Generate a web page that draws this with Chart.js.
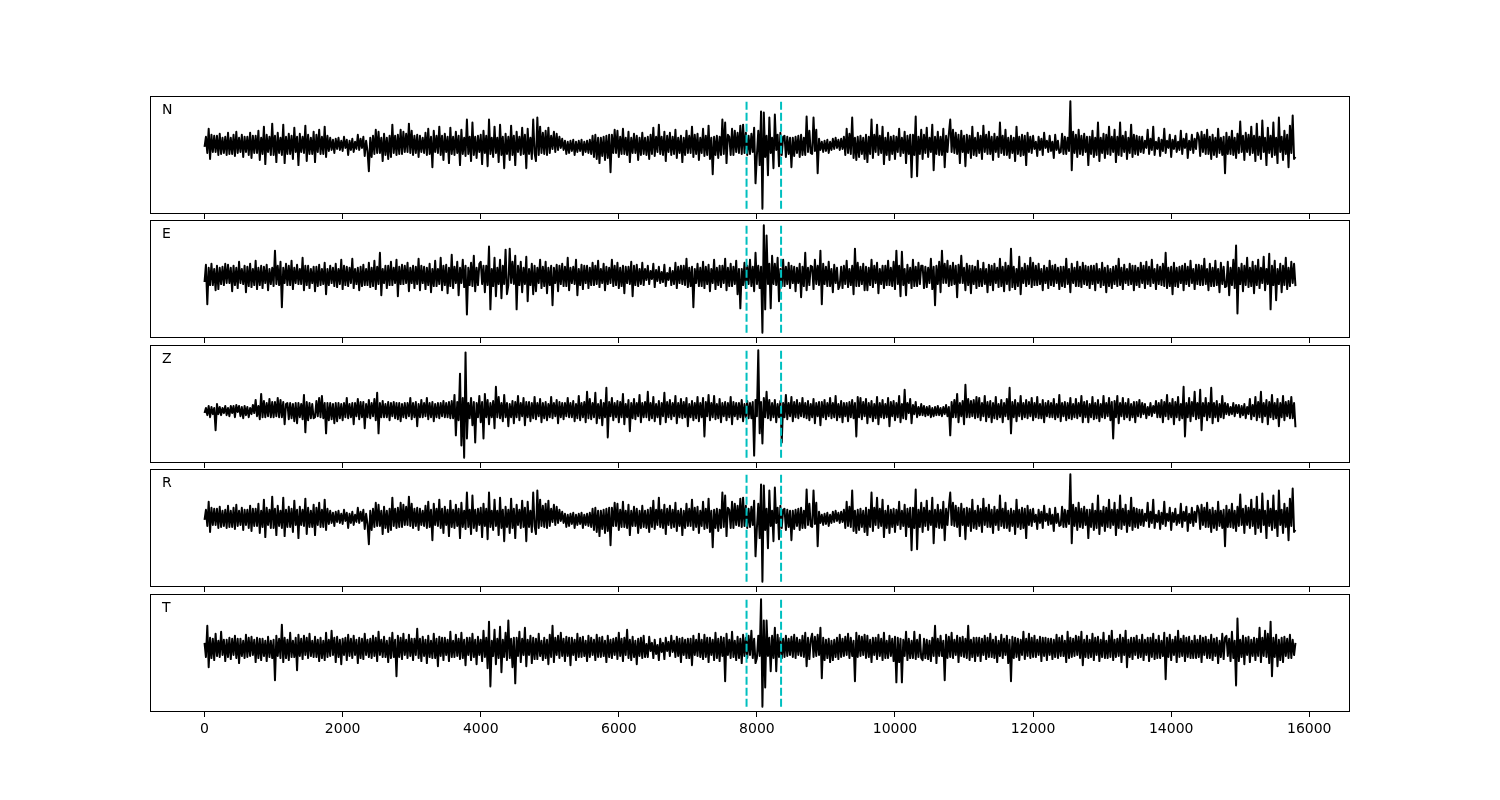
<!DOCTYPE html>
<html lang="en">
  <head>
    <meta charset="UTF-8" />
    <title>Componentes N E Z R T</title>
    <script src="https://cdn.jsdelivr.net/npm/chart.js"></script>
    <style>
      body { margin: 0; background: #fff; }
      .figure { position: relative; width: 1500px; height: 800px; }
      .figure canvas { position: absolute; left: 0; }
    </style>
  </head>
  <body>
    <div class="figure" id="figure"></div>

    <script>
      // samples are 20 units apart, starting at 0
      const STEP = 20;
      const componentNames = ["N", "E", "Z", "R", "T"];
      const pickTimes = [7850, 8350];
      const xTicks = [0, 2000, 4000, 6000, 8000, 10000, 12000, 14000, 16000];

      // amplitudes, one row per 400 units
      const nVals = [
        -2, 8, -8, 16, -14, 10, -7, 9, -7, 9, -10, 11, -9, 7, -8, 8, -10, 12, -9, 7,
        -9, 10, -11, 13, -8, 7, -7, 10, -12, 8, -7, 8, -10, 12, -13, 9, -8, 9, -8, 14,
        -15, 7, -9, 18, -19, 10, -7, 8, -10, 21, -10, 9, -17, 12, -8, 7, -10, 20, -18, 8,
        -9, 11, -9, 9, -14, 17, -7, 8, -20, 11, -7, 8, -8, 19, -16, 10, -9, 7, -9, 13,
        -17, 10, -7, 15, -9, 8, -9, 18, -12, 9, -6, 7, -5, 5, -8, 6, -4, 7, -5, 4,
        -6, 8, -3, 5, -10, 4, -5, 6, -7, 3, -4, 10, -5, 6, -3, 8, -11, 4, -6, -26,
        7, -12, 9, -9, 15, -8, 13, -8, 7, -16, 11, -10, 7, -14, 9, -12, 20, -8, 9, -10,
        10, -9, 15, -9, 13, -7, 11, -7, 21, -8, 14, -10, 9, -8, 10, -12, 9, -7, 7, -8,
        12, -10, 16, -9, 8, -22, 14, -7, 9, -8, 18, -10, 9, -15, 11, -7, 8, -18, 17, -9,
        8, -10, 13, -8, 9, -20, 15, -9, 7, -11, 25, -9, 8, -16, 22, -10, 8, -13, 9, -7,
        10, -19, 14, -8, 9, -21, 25, -9, 7, -12, 18, -8, 7, -17, 20, -10, 8, -23, 11, -9,
        8, -15, 19, -10, 9, -20, 13, -7, 8, -10, 17, -9, 10, -23, 16, -9, 7, -14, 25, -8,
        -16, 27, -10, 18, -8, 12, -9, 14, -10, 17, -8, 9, -4, 13, -7, 11, -5, 8, -3, 6,
        -5, 4, -9, 3, -8, 4, -6, 5, -10, 3, -7, 4, -6, 5, -10, 3, -7, 4, -8, 5,
        -9, 9, -12, 10, -14, 7, -18, 7, -11, 8, -15, 9, -13, 10, -27, 10, -8, 15, -8, 14,
        -12, 8, -9, 16, -9, 7, -10, 13, -17, 7, -8, 11, -8, 9, -15, 7, -10, 12, -9, 7,
        -10, 8, -14, 10, -9, 17, -11, 8, -7, 20, -9, 8, -10, 13, -16, 9, -7, 12, -10, 8,
        -9, 15, -13, 7, -8, 9, -17, 7, -10, 14, -8, 9, -8, 18, -12, 10, -9, 11, -15, 7,
        -8, 16, -11, 9, -10, 19, -14, 7, -29, 8, -10, 9, -13, 8, -10, 25, -9, 22, -18, 10,
        8, -10, 16, -10, 14, -7, 12, -8, 19, -9, 20, -8, 12, -10, 9, -9, 11, -7, 17, -38,
        -10, 14, -20, 33, -63, 32, -12, 9, -30, 27, -8, 7, -23, 30, -5, 10, -21, 12, -10, 8,
        9, -12, 8, -9, 7, -22, 7, -11, 8, -8, 9, -12, 10, -10, 7, -10, 28, -7, 14, -8,
        -9, 27, -6, 15, -28, 6, -5, 3, -7, 4, -6, 5, -8, 3, -5, 6, -4, 7, -3, 5,
        -5, 6, -4, 8, -10, 16, -8, 11, -9, 27, -13, 7, -15, 8, -12, 9, -9, 7, -14, 10,
        -17, 8, -9, 25, -13, 10, -7, 20, -10, 9, -8, 18, -19, 7, -10, 12, -15, 8, -9, 9,
        -14, 8, -7, 16, -11, 7, -8, 13, -18, 9, -9, 10, -32, 10, -10, 28, -31, 8, -9, 15,
        -14, 10, -8, 17, -12, 7, -7, 20, -25, 8, -9, 13, -10, 8, -10, 16, -22, 9, -7, 11,
        25, -7, 15, -8, 12, -9, 10, -18, 14, -7, 9, -21, 10, -8, 9, -13, 18, -10, 7, -11,
        12, -8, 9, -14, 19, -7, 10, -9, 13, -9, 8, -15, 11, -7, 8, -12, 22, -8, 9, -10,
        15, -10, 7, -13, 9, -8, 7, -16, 18, -9, 8, -11, 10, -10, 9, -20, 12, -7, 8, -8,
        9, -4, 3, -11, 8, -5, 6, -10, 12, -3, 4, -7, 9, -6, 3, -13, 10, -5, 4, -8,
        -7, 11, -9, 8, -9, 7, -6, 43, -25, 13, -8, 10, -12, 15, -9, 9, -10, 11, -7, 8,
        -20, 8, -9, 14, -12, 7, -10, 22, -16, 7, -8, 11, -13, 10, -9, 18, -10, 8, -7, 15,
        -17, 8, -10, 22, -11, 9, -7, 13, -14, 7, -8, 20, -12, 10, -9, 9, -10, 8, -7, 8,
        -8, 4, -3, 15, -9, 6, -5, 18, -10, 3, -4, 7, -11, 5, -6, 16, -8, 4, -3, 10,
        -12, 5, -4, 9, -7, 3, -5, 14, -9, 6, -3, 11, -13, 4, -5, 10, -8, 6, -4, 12,
        8, -11, 13, -7, 10, -9, 15, -9, 8, -14, 10, -10, 7, -12, 16, -8, 7, -10, 8, -28,
        12, -9, 8, -9, 14, -10, 7, -13, 11, -8, 23, -7, 9, -15, 12, -7, 10, -10, 18, -8,
        9, -16, 21, -10, 8, -14, 24, -7, 7, -20, 17, -8, 9, -12, 22, -10, 7, -18, 27, -7,
        8, -15, 14, -9, 10, -22, 19, -8, 29, -14, -12,
      ];

      const eVals = [
        -6, 11, -28, 8, -9, 12, -9, 7, -14, 10, -13, 8, -8, 9, -9, 12, -7, 11, -7, 8,
        -15, 10, -9, 8, -12, 14, -7, 7, -8, 10, -16, 9, -10, 12, -11, 7, -9, 15, -13, 8,
        -9, 10, -12, 9, -7, 11, -14, 7, -8, 8, -10, 25, -8, 10, -9, 14, -31, 8, -7, 12,
        -9, 10, -9, 15, -13, 8, -7, 11, -8, 7, -8, 18, -14, 10, -9, 10, -12, 7, -7, 9,
        -15, 9, -10, 11, -9, 7, -8, 13, -18, 7, -9, 10, -7, 8, -10, 12, -11, 7, -8, 16,
        -13, 10, -9, 9, -10, 8, -7, 17, -12, 7, -8, 8, -14, 9, -10, 11, -9, 7, -9, 13,
        -11, 8, -10, 15, -13, 9, -8, 23, -19, 7, -7, 10, -12, 10, -9, 14, -9, 8, -7, 16,
        -20, 9, -8, 11, -8, 10, -7, 13, -15, 8, -7, 10, -12, 9, -8, 17, -14, 10, -7, 9,
        -13, 8, -9, 12, -16, 7, -10, 15, -10, 7, -8, 18, -14, 10, -9, 11, -17, 8, -10, 21,
        -12, 9, -7, 14, -19, 8, -7, 16, -11, 10, -38, 8, -9, 13, -10, 20, -15, 8, -9, 12,
        14, -8, 10, -16, 10, -9, 29, -33, 7, -10, 18, -20, 8, -8, 16, -22, 10, -8, 26, -18,
        -9, 27, -7, 14, -8, 20, -33, 10, -9, 14, -16, 8, -8, 19, -25, 7, -9, 12, -18, 10,
        -15, 8, -7, 16, -12, 9, -10, 14, -17, 8, -9, 10, -29, 8, -7, 11, -15, 10, -8, 12,
        -10, 9, -10, 18, -14, 8, -7, 9, -8, 16, -19, 7, -9, 11, -13, 10, -7, 10, -12, 8,
        -9, 13, -9, 10, -8, 15, -11, 7, -7, 12, -14, 9, -8, 8, -7, 16, -10, 10, -9, 13,
        -12, 8, -10, 10, -17, 9, -7, 9, -8, 14, -20, 10, -9, 11, -10, 7, -8, 13, -9, 7,
        -4, 10, -8, 5, -3, 12, -11, 6, -5, 9, -7, 4, -6, 11, -10, 3, -4, 8, -9, 5,
        -8, 13, -12, 9, -7, 10, -8, 10, -9, 17, -11, 8, -10, 9, -31, 7, -7, 12, -10, 8,
        -10, 14, -12, 9, -8, 11, -15, 7, -7, 16, -13, 8, -9, 10, -11, 10, -7, 17, -14, 8,
        -10, 12, -10, 9, -8, 15, -18, 7, -32, 7, -9, 13, -12, 10, -8, 16, -10, 9, -15, 23,
        -8, 10, -12, 9, -56, 50, -33, 40, -8, 12, -32, 20, -8, 12, -9, 18, -25, 7, -10, 16,
        -10, 9, -8, 13, -12, 10, -7, 9, -15, 8, -7, 12, -21, 9, -10, 23, -14, 8, -9, 10,
        9, -13, 16, -8, 10, -9, 25, -28, 12, -8, 9, -10, 14, -10, 7, -16, 11, -7, 8, -13,
        -9, 9, -12, 10, -8, 15, -11, 7, -9, 10, -18, 27, -10, 13, -10, 9, -8, 12, -14, 9,
        -14, 8, -9, 16, -11, 10, -7, 13, -17, 7, -8, 10, -12, 10, -9, 15, -9, 8, -10, 14,
        -13, 25, -8, 10, -20, 24, -9, 7, -19, 11, -7, 8, -12, 16, -10, 9, -10, 13, -8, 10,
        10, -12, 9, -11, 8, -7, 17, -13, 9, -29, 10, -8, 14, -16, 25, -7, 12, -7, 15, -10,
        10, -9, 13, -8, 10, -21, 11, -7, 20, -7, 8, -14, 12, -9, 10, -17, 10, -8, 9, -12,
        15, -10, 7, -10, 13, -8, 7, -16, 11, -9, 10, -14, 12, -7, 8, -11, 17, -10, 9, -15,
        13, -8, 10, -14, 27, -11, 9, -13, 7, -10, 19, -18, 8, -7, 12, -10, 10, -8, 18, -11,
        13, -9, 10, -9, 12, -8, 7, -14, 10, -7, 8, -12, 15, -9, 10, -10, 11, -7, 8, -13,
        9, -10, 9, -11, 17, -8, 7, -16, 12, -7, 8, -10, 14, -10, 9, -11, 13, -8, 10, -9,
        9, -12, 10, -8, 10, -14, 12, -7, 7, -11, 13, -9, 8, -16, 10, -10, 7, -12, 9, -8,
        10, -10, 17, -9, 8, -13, 11, -7, 7, -9, 12, -8, 10, -14, 10, -9, 8, -11, 13, -7,
        10, -12, 14, -8, 9, -10, 16, -7, 7, -13, 11, -8, 9, -9, 12, -10, 23, -12, 8, -10,
        9, -18, 13, -10, 8, -11, 9, -7, 10, -14, 12, -8, 9, -10, 15, -7, 7, -13, 11, -8,
        11, -9, 10, -9, 17, -8, 7, -14, 12, -10, 8, -10, 15, -9, 7, -16, 13, -8, 9, -11,
        -10, 14, -19, 8, -9, 16, -12, 30, -37, 8, -8, 12, -15, 10, -9, 18, -11, 8, -10, 14,
        -17, 10, -9, 16, -12, 8, -7, 19, -14, 7, -8, 22, -33, 10, -9, 15, -24, 7, -8, 12,
        -16, 10, -9, 18, -13, 8, -10, 14, -7, 12, -10,
      ];

      const zVals = [
        -3, 2, -5, 4, -7, 3, -4, 2, -20, 6, -4, 3, -5, 2, -3, 4, -5, 2, -6, 4,
        -3, 4, -7, 5, -2, 4, -6, 3, -8, 4, -5, 3, -7, 2, -4, 5, -3, 10, -6, 4,
        -9, 16, -7, 9, -7, 7, -6, 11, -7, 8, -7, 8, -6, 12, -7, 10, -7, 8, -14, 6,
        7, -9, 7, -8, 6, -11, 7, -13, 7, -7, 6, -9, 15, -22, 8, -10, 7, -8, 6, -8,
        -7, 9, -6, 12, -7, 14, -8, 7, -23, 7, -10, 7, -9, 6, -13, 7, -11, 7, -8, 6,
        -10, 7, -7, 12, -8, 6, -7, 7, -14, 7, -6, 11, -9, 8, -7, 8, -18, 6, -7, 10,
        -8, 7, -6, 11, -10, 17, -23, 7, -7, 9, -7, 6, -7, 8, -10, 7, -6, 8, -8, 7,
        -9, 7, -11, 6, -7, 7, -8, 7, -6, 12, -9, 7, -7, 8, -16, 6, -7, 10, -7, 7,
        -6, 12, -9, 7, -7, 8, -11, 6, -7, 7, -8, 7, -6, 9, -7, 7, -7, 8, -8, 9,
        -8, 15, -25, 8, -10, 36, -35, 12, -47, 57, -28, 7, -8, 12, -15, 8, -32, 7, -7, 14,
        -12, 8, -28, 16, -7, 10, -14, 7, -7, 9, -18, 23, -7, 13, -8, 7, -11, 15, -7, 7,
        -16, 6, -7, 9, -13, 8, -7, 14, -10, 7, -6, 12, -15, 8, -7, 8, -11, 7, -8, 13,
        -9, 7, -6, 11, -12, 7, -8, 8, -10, 6, -7, 13, -8, 7, -6, 10, -13, 8, -7, 7,
        -9, 7, -6, 12, -7, 7, -7, 9, -11, 6, -8, 14, -10, 7, -7, 8, -12, 18, -8, 11,
        -9, 7, -7, 17, -13, 6, -8, 10, -15, 7, -7, 22, -27, 8, -6, 12, -10, 7, -7, 9,
        -12, 8, -7, 16, -14, 6, -7, 10, -21, 7, -8, 11, -9, 7, -6, 15, -12, 7, -7, 8,
        -7, 18, -10, 7, -8, 13, -11, 6, -7, 9, -14, 7, -6, 17, -12, 8, -7, 10, -9, 7,
        -6, 14, -13, 7, -7, 11, -8, 8, -7, 12, -16, 6, -7, 9, -10, 7, -8, 13, -11, 7,
        -7, 12, -26, 8, -6, 15, -10, 7, -7, 14, -9, 6, -8, 11, -12, 7, -6, 8, -10, 7,
        -7, 13, -14, 8, -6, 7, -9, 7, -7, 10, -11, 6, -7, 9, -8, 7, -8, 8, -45, 10,
        -6, 59, -23, 8, -33, 12, -7, 18, -8, 10, -10, 7, -7, 10, -12, 6, -7, 9, -32, 7,
        -7, 15, -9, 7, -6, 13, -11, 8, -7, 10, -8, 7, -6, 12, -7, 7, -8, 9, -10, 6,
        -7, 11, -13, 7, -6, 8, -15, 8, -7, 10, -9, 7, -6, 12, -8, 7, -7, 14, -10, 6,
        -7, 9, -12, 7, -6, 7, -11, 8, -7, 10, -8, 7, -26, 13, -7, 12, -9, 8, -6, 11,
        -13, 7, -7, 9, -11, 6, -8, 13, -14, 7, -7, 10, -8, 6, -7, 12, -16, 8, -6, 9,
        -10, 7, -7, 14, -12, 6, -8, 20, -9, 7, -3, 11, -13, 5, -4, 8, -7, 3, -5, 6,
        -5, 4, -6, 3, -5, 4, -7, 2, -6, 3, -5, 4, -5, 2, -6, 3, -4, 5, -6, 3,
        -25, 8, -7, 10, -7, 16, -12, 7, -6, 9, -14, 25, -7, 11, -7, 9, -6, 10, -8, 13,
        -7, 12, -10, 7, -6, 14, -11, 8, -7, 9, -12, 7, -8, 13, -9, 6, -7, 10, -12, 7,
        -6, 11, -9, 22, -23, 8, -7, 10, -11, 7, -6, 14, -9, 7, -7, 10, -8, 8, -6, 12,
        -10, 7, -7, 13, -8, 6, -8, 10, -12, 7, -6, 9, -7, 7, -7, 11, -9, 6, -7, 15,
        -11, 7, -6, 8, -10, 7, -8, 12, -9, 6, -7, 11, -8, 7, -6, 14, -12, 8, -7, 9,
        -12, 6, -7, 13, -9, 7, -8, 10, -11, 6, -7, 14, -8, 7, -6, 12, -10, 8, -28, 9,
        -7, 14, -13, 7, -6, 12, -9, 7, -7, 11, -10, 6, -7, 8, -12, 8, -6, 10, -7, 7,
        -4, 6, -8, 3, -5, 7, -6, 4, -3, 9, -7, 7, -7, 10, -12, 8, -6, 15, -9, 7,
        -7, 11, -14, 8, -7, 13, -10, 6, -8, 23, -26, 7, -7, 12, -11, 8, -6, 18, -9, 7,
        -8, 20, -20, 7, -6, 12, -10, 7, -7, 22, -13, 7, -7, 9, -11, 6, -7, 14, -8, 7,
        -4, 6, -5, 3, -4, 7, -6, 5, -3, 5, -7, 4, -5, 6, -8, 3, -4, 11, -9, 5,
        -6, 13, -10, 8, -7, 18, -12, 7, -6, 10, -14, 8, -7, 15, -9, 7, -8, 11, -16, 7,
        -7, 14, -10, 8, -6, 9, -8, 13, -8, 7, -17,
      ];

      // R reads the same as N in the picture
      const rVals = nVals.slice();

      const tVals = [
        5, -9, 22, -19, 10, -10, 9, -12, 14, -8, 7, -9, 16, -7, 8, -13, 8, -9, 10, -11,
        9, -7, 12, -10, 9, -15, 9, -8, 7, -10, 13, -9, 10, -8, 11, -7, 8, -14, 10, -10,
        9, -12, 9, -8, 7, -13, 11, -9, 7, -10, 8, -32, 12, -8, 9, -10, 23, -14, 10, -10,
        8, -12, 15, -9, 7, -9, 10, -22, 13, -8, 9, -11, 12, -7, 10, -10, 14, -8, 7, -9,
        11, -9, 8, -13, 10, -10, 7, -12, 15, -9, 8, -8, 17, -7, 10, -14, 11, -9, 8, -16,
        9, -7, 10, -12, 13, -8, 9, -10, 12, -7, 8, -15, 10, -10, 9, -11, 14, -7, 8, -9,
        9, -10, 12, -8, 10, -13, 16, -7, 8, -9, 11, -9, 7, -14, 10, -10, 15, -9, 8, -28,
        12, -9, 10, -11, 14, -7, 8, -10, 13, -8, 9, -12, 9, -7, 19, -10, 9, -13, 11, -8,
        8, -15, 12, -9, 7, -10, 14, -10, 9, -18, 11, -8, 10, -12, 10, -7, 8, -13, 16, -9,
        7, -9, 13, -8, 9, -11, 15, -10, 8, -17, 10, -7, 10, -12, 14, -9, 8, -16, 11, -7,
        8, -13, 17, -9, 10, -20, 26, -38, 7, -8, 18, -16, 9, -10, 21, -24, 8, -9, 15, -12,
        27, -10, 9, -19, 10, -35, 10, -8, 16, -14, 9, -7, 20, -18, 8, -7, 12, -15, 10, -11,
        9, -11, 14, -8, 7, -12, 10, -10, 8, -16, 13, -9, 22, -14, 10, -7, 12, -10, 15, -8,
        9, -13, 11, -8, 10, -17, 10, -7, 8, -12, 14, -9, 10, -9, 11, -8, 7, -13, 12, -9,
        10, -7, 8, -12, 13, -9, 10, -9, 11, -8, 7, -14, 12, -9, 8, -10, 9, -7, 10, -11,
        15, -8, 9, -13, 10, -7, 18, -10, 8, -12, 11, -9, 7, -16, 9, -8, 10, -10, 12, -9,
        4, -9, 11, -3, 5, -10, 8, -6, 3, -12, 9, -4, 5, -11, 10, -3, 6, -8, 12, -4,
        7, -9, 11, -8, 9, -14, 10, -7, 8, -10, 9, -10, 9, -17, 12, -7, 8, -8, 14, -9,
        8, -11, 13, -9, 10, -14, 10, -7, 8, -12, 15, -10, 9, -13, 11, -8, 10, -33, 14, -7,
        8, -10, 16, -9, 7, -12, 11, -10, 9, -15, 13, -8, 10, -10, 12, -7, 17, -10, 9, -15,
        -10, 12, -8, 48, -58, 27, -39, 27, -8, 10, -23, 12, -10, 20, -23, 13, -9, 10, -10, 9,
        -9, 12, -8, 9, -7, 11, -9, 13, -10, 10, -7, 8, -8, 12, -9, 15, -18, 10, -11, 8,
        14, -9, 11, -8, 13, -7, 20, -30, 10, -12, 8, -10, 9, -14, 7, -12, 8, -9, 10, -11,
        13, -9, 9, -8, 11, -7, 14, -10, 10, -8, 7, -33, 15, -9, 12, -8, 11, -7, 13, -10,
        12, -9, 8, -14, 10, -7, 10, -11, 13, -8, 9, -12, 15, -10, 7, -10, 12, -8, 9, -13,
        11, -34, 10, -14, 9, -34, 8, -8, 16, -12, 9, -10, 7, -10, 16, -11, 8, -9, 13, -10,
        -12, 9, -10, 8, -11, 7, -13, 10, -8, 22, -15, 9, -8, 12, -8, 7, -32, 13, -10, 11,
        -9, 15, -10, 8, -7, 12, -14, 10, -8, 11, -9, 9, -10, 22, -12, 8, -9, 10, -13, 10,
        -8, 10, -13, 9, -7, 12, -11, 10, -9, 14, -9, 8, -10, 11, -14, 7, -8, 13, -10, 9,
        -7, 12, -15, 8, -33, 11, -10, 10, -9, 9, -12, 8, -7, 16, -11, 9, -8, 14, -10, 10,
        -9, 12, -9, 8, -7, 11, -13, 10, -8, 10, -12, 9, -7, 9, -11, 8, -9, 13, -10, 10,
        -8, 12, -8, 7, -14, 16, -10, 10, -9, 9, -8, 12, -7, 11, -10, 16, -17, 8, -9, 12,
        -10, 8, -9, 14, -12, 10, -7, 11, -13, 8, -9, 15, -10, 7, -10, 12, -9, 17, -12, 8,
        -9, 9, -8, 13, -14, 10, -7, 17, -19, 8, -9, 10, -11, 10, -7, 12, -10, 8, -9, 13,
        -12, 8, -7, 10, -13, 10, -9, 14, -11, 8, -10, 12, -10, 7, -8, 15, -31, 10, -9, 13,
        -12, 8, -7, 11, -14, 17, -9, 9, -8, 12, -13, 10, -9, 11, -10, 7, -10, 12, -10, 8,
        -9, 12, -14, 10, -7, 11, -10, 8, -10, 13, -12, 9, -8, 10, -15, 7, -9, 14, -11, 10,
        12, -8, 9, -13, 16, -10, 7, -37, 29, -13, 8, -9, 12, -16, 10, -7, 11, -14, 8, -8,
        10, -12, 9, -8, 20, -14, 10, -8, 17, -9, 14, -15, 26, -28, 10, -9, 13, -18, 8, -12,
        10, -14, 11, -8, 9, -10, 13, -10, 8, -7, 5,
      ];

      const componentVals = [nVals, eVals, zVals, rVals, tVals];

      // figure layout (matplotlib subplots, left .1 right .9)
      const panelTops = [96, 220, 345, 469, 594];
      const PANEL_H = 118;
      const PAD_TOP = 10;

      const figure = document.getElementById("figure");

      componentNames.forEach((name, k) => {
        const vals = componentVals[k];
        const isLast = k === componentNames.length - 1;
        const axisH = isLast ? 40 : 6;

        const lo = Math.min(...vals);
        const hi = Math.max(...vals);
        const margin = (hi - lo) * 0.05;

        const canvas = document.createElement("canvas");
        canvas.width = 1500;
        canvas.height = PAD_TOP + PANEL_H + axisH;
        canvas.style.width = "1500px";
        canvas.style.height = canvas.height + "px";
        canvas.style.top = panelTops[k] - PAD_TOP + "px";
        figure.appendChild(canvas);

        // box around the axes + component letter
        const framePlugin = {
          id: "frame" + name,
          afterDraw(chart) {
            const { ctx, chartArea: a } = chart;
            ctx.save();
            ctx.strokeStyle = "#000";
            ctx.lineWidth = 1;
            ctx.strokeRect(Math.round(a.left) + 0.5, Math.round(a.top) + 0.5,
              Math.round(a.right - a.left) - 1, Math.round(a.bottom - a.top) - 1);
            ctx.fillStyle = "#000";
            ctx.font = "14px 'DejaVu Sans'";
            ctx.textBaseline = "alphabetic";
            ctx.fillText(name, a.left + 12, a.top + 18);
            ctx.restore();
          },
        };

        const pickSets = pickTimes.map((t) => ({
          data: [{ x: t, y: lo }, { x: t, y: hi }],
          borderColor: "#00bfbf",
          borderWidth: 2,
          borderDash: [8, 3],
          order: 0,
        }));

        new Chart(canvas, {
          type: "line",
          data: {
            datasets: [
              ...pickSets,
              {
                data: vals.map((v, i) => ({ x: i * STEP, y: v })),
                borderColor: "#000",
                borderWidth: 2,
                order: 1,
              },
            ],
          },
          options: {
            responsive: false,
            animation: false,
            events: [],
            layout: { padding: { top: PAD_TOP, left: 150, right: 150, bottom: 0 } },
            elements: {
              point: { radius: 0 },
              line: { tension: 0, borderJoinStyle: "round", fill: false },
            },
            plugins: { legend: { display: false }, tooltip: { enabled: false } },
            scales: {
              x: {
                type: "linear",
                min: -790,
                max: 16590,
                afterBuildTicks: (scale) => {
                  scale.ticks = xTicks.map((v) => ({ value: v }));
                },
                afterFit: (scale) => {
                  scale.height = axisH;
                },
                grid: {
                  drawOnChartArea: false,
                  drawTicks: true,
                  tickLength: 5,
                  color: "#000",
                  lineWidth: 1,
                },
                border: { display: false },
                ticks: {
                  display: isLast,
                  padding: 4,
                  color: "#000",
                  autoSkip: false,
                  maxRotation: 0,
                  font: { family: "'DejaVu Sans'", size: 14 },
                  callback: (v) => String(v),
                },
              },
              y: { display: false, min: lo - margin, max: hi + margin },
            },
          },
          plugins: [framePlugin],
        });
      });
    </script>
  </body>
</html>
